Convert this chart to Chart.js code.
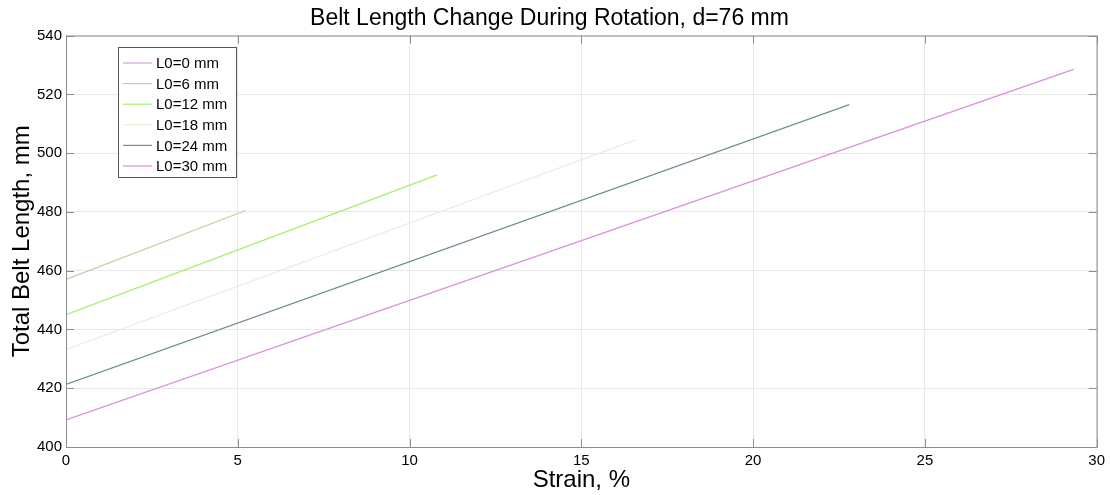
<!DOCTYPE html>
<html>
<head>
<meta charset="utf-8">
<script src="https://cdn.jsdelivr.net/npm/chart.js@4/dist/chart.umd.min.js"></script>
<style>
  html, body { margin: 0; padding: 0; background: #fff; }
  #wrap { width: 1110px; height: 495px; }
</style>
</head>
<body>
<div id="wrap"><canvas id="beltChart" width="1110" height="495"></canvas></div>
<script>
// series: start and end of each line (strain %, belt length mm)
const seriesLabels = ["L0=0 mm", "L0=6 mm", "L0=12 mm", "L0=18 mm", "L0=24 mm", "L0=30 mm"];
const strainValues = [
  [0],
  [0, 5.23],
  [0, 10.8],
  [0, 16.6],
  [0, 22.8],
  [0, 29.33],
];
const lengthValues = [
  [469],
  [457, 480.5],
  [445, 492.6],
  [433.2, 504.6],
  [421.3, 516.5],
  [409.2, 528.5],
];
const lineColors = ["#d9a3d9", "#c9c9a3", "#a3ef6b", "#efebd9", "#6f8f96", "#dd8ddd"];
const xTicks = [0, 5, 10, 15, 20, 25, 30];
const yTicks = [400, 420, 440, 460, 480, 500, 520, 540];

const fontFam = "Arial, 'Liberation Sans', sans-serif";

const datasets = seriesLabels.map((lab, i) => ({
  label: lab,
  data: strainValues[i].map((x, j) => ({ x: x, y: lengthValues[i][j] })),
  borderColor: lineColors[i],
  backgroundColor: lineColors[i],
  borderWidth: 1.2,
  pointRadius: 0,
  showLine: true,
  fill: false,
}));

// box around the plot, inner ticks and the legend box
const boxPlugin = {
  id: "boxPlugin",
  afterDraw(chart) {
    const ctx = chart.ctx;
    const a = chart.chartArea;
    const xs = chart.scales.x, ys = chart.scales.y;
    ctx.save();
    ctx.strokeStyle = "#8c8c8c";
    ctx.lineWidth = 1;
    ctx.strokeRect(a.left + 0.5, a.top + 0.5, a.right - a.left, a.bottom - a.top);
    ctx.beginPath();
    xTicks.forEach(v => {
      const px = Math.round(xs.getPixelForValue(v)) + 0.5;
      ctx.moveTo(px, a.bottom); ctx.lineTo(px, a.bottom - 8);
      ctx.moveTo(px, a.top); ctx.lineTo(px, a.top + 8);
    });
    yTicks.forEach(v => {
      const py = Math.round(ys.getPixelForValue(v)) + 0.5;
      ctx.moveTo(a.left, py); ctx.lineTo(a.left + 8, py);
      ctx.moveTo(a.right, py); ctx.lineTo(a.right - 8, py);
    });
    ctx.stroke();

    // legend
    const lx = 118, ly = 47, lw = 118, lh = 130;
    ctx.fillStyle = "#fff";
    ctx.fillRect(lx, ly, lw, lh);
    ctx.strokeStyle = "#555";
    ctx.strokeRect(lx + 0.5, ly + 0.5, lw, lh);
    ctx.font = "15px " + fontFam;
    ctx.textBaseline = "middle";
    chart.data.datasets.forEach((ds, i) => {
      const y = ly + 16 + i * 20.6;
      ctx.strokeStyle = ds.borderColor;
      ctx.lineWidth = 1.2;
      ctx.beginPath();
      ctx.moveTo(lx + 5, y); ctx.lineTo(lx + 34, y);
      ctx.stroke();
      ctx.fillStyle = "#000";
      ctx.fillText(ds.label, lx + 38, y + 1);
    });
    ctx.restore();
  },
};

new Chart(document.getElementById("beltChart"), {
  type: "scatter",
  data: { datasets: datasets },
  options: {
    responsive: false,
    animation: false,
    layout: { padding: { top: 0, right: 11, bottom: 0, left: 0 } },
    plugins: {
      legend: { display: false },
      tooltip: { enabled: false },
      title: {
        display: true,
        text: "Belt Length Change During Rotation, d=76 mm",
        color: "#000",
        font: { family: fontFam, size: 23, weight: "normal" },
        padding: { top: 5, bottom: 3 },
      },
    },
    scales: {
      x: {
        type: "linear",
        min: 0,
        max: 30,
        afterBuildTicks(scale) { scale.ticks = xTicks.map(v => ({ value: v })); },
        afterFit(scale) { scale.height = 48; },
        grid: { color: "#e8e8e8", drawTicks: false },
        border: { display: false },
        ticks: { color: "#000", padding: 5, font: { family: fontFam, size: 15 }, maxRotation: 0 },
        title: {
          display: true,
          text: "Strain, %",
          color: "#000",
          padding: { top: 0, bottom: 0 },
          font: { family: fontFam, size: 24 },
        },
      },
      y: {
        type: "linear",
        min: 400,
        max: 540,
        afterBuildTicks(scale) { scale.ticks = yTicks.map(v => ({ value: v })); },
        afterFit(scale) { scale.width = 66; },
        grid: { color: "#e8e8e8", drawTicks: false },
        border: { display: false },
        ticks: { color: "#000", padding: 4, font: { family: fontFam, size: 15 } },
        title: {
          display: true,
          text: "Total Belt Length, mm",
          color: "#000",
          padding: { top: 8, bottom: 0 },
          font: { family: fontFam, size: 24 },
        },
      },
    },
  },
  plugins: [boxPlugin],
});
</script>
</body>
</html>
